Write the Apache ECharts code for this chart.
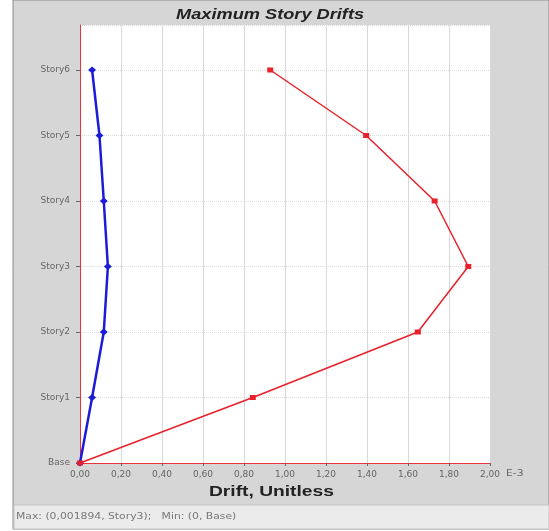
<!DOCTYPE html>
<html><head><meta charset="utf-8">
<script src="https://cdn.jsdelivr.net/npm/echarts@6/dist/echarts.min.js"></script>
<style>html,body{margin:0;padding:0;background:#fff}#c{width:549px;height:531px}</style>
</head><body><div id="c"></div>
<script>
const stories = ['Base','Story1','Story2','Story3','Story4','Story5','Story6'];
const driftX = [0, 0.843, 1.648, 1.894, 1.73, 1.396, 0.928];   // E-3
const driftY = [0, 0.059, 0.116, 0.136, 0.116, 0.095, 0.059];  // E-3
const xTicks = ['0,00','0,20','0,40','0,60','0,80','1,00','1,20','1,40','1,60','1,80','2,00'];

const chart = echarts.init(document.getElementById('c'));
const toPts = arr => arr.map((v,i)=>[v,i]);
chart.setOption({
  backgroundColor:'#ffffff',
  animation:false,
  graphic:[
    {type:'rect',z:-10,shape:{x:13,y:0,width:536,height:529},style:{fill:'#d6d6d6',stroke:'#8a8a8a',lineWidth:1}},
    {type:'rect',z:-9,shape:{x:14,y:505,width:535,height:24},style:{fill:'#ebebeb',stroke:'#c4c4c4',lineWidth:1}},
    {type:'text',x:16,y:513,scaleX:1.35,style:{text:'Max: (0,001894, Story3);   Min: (0, Base)',fill:'#777',font:'8px "DejaVu Sans"'}},
    {type:'text',x:176,y:8,scaleX:1.3,style:{text:'Maximum Story Drifts',fill:'#222',font:'italic bold 14px "Liberation Sans", Arial'}},
    {type:'text',x:209,y:484,scaleX:1.28,style:{text:'Drift, Unitless',fill:'#222',font:'bold 15px "Liberation Sans", Arial'}},
    {type:'text',x:506,y:469,scaleX:1.2,style:{text:'E-3',fill:'#666',font:'9px "DejaVu Sans"'}}
  ],
  grid:{left:80,top:25,right:59,bottom:68,show:true,backgroundColor:'#ffffff',borderWidth:0},
  xAxis:{type:'value',min:0,max:2,interval:0.2,
    axisLine:{show:true,onZero:false,lineStyle:{color:'#e8333a',width:1}},
    axisTick:{show:true,length:3,lineStyle:{color:'#666'}},
    axisLabel:{fontSize:9,color:'#666',margin:7,fontFamily:'"DejaVu Sans"',
      formatter:(v)=>xTicks[Math.round(v/0.2)]},
    splitLine:{show:true,lineStyle:{color:'#d8d8d8',width:1}}},
  yAxis:{type:'value',min:0,max:6.687,interval:1,
    axisLine:{show:true,onZero:false,lineStyle:{color:'#e8333a',width:1}},
    axisTick:{show:true,length:4,lineStyle:{color:'#666'}},
    axisLabel:{fontSize:9,color:'#666',margin:10,fontFamily:'"DejaVu Sans"',
      formatter:(v)=>stories[Math.round(v)]||'' , showMaxLabel:false},
    splitLine:{show:true,lineStyle:{color:'#dcdcdc',width:1,type:'dotted'}}},
  series:[
    {type:'line',data:toPts(driftY),symbol:'diamond',symbolSize:[8,7],
      lineStyle:{color:'#1c1cd6',width:2.5},itemStyle:{color:'#1c1cd6'},z:3},
    {type:'line',data:toPts(driftX),symbol:'rect',symbolSize:[6,5],
      lineStyle:{color:'#e8202a',width:1.5},itemStyle:{color:'#e8202a'},z:4}
  ]
});
</script></body></html>
